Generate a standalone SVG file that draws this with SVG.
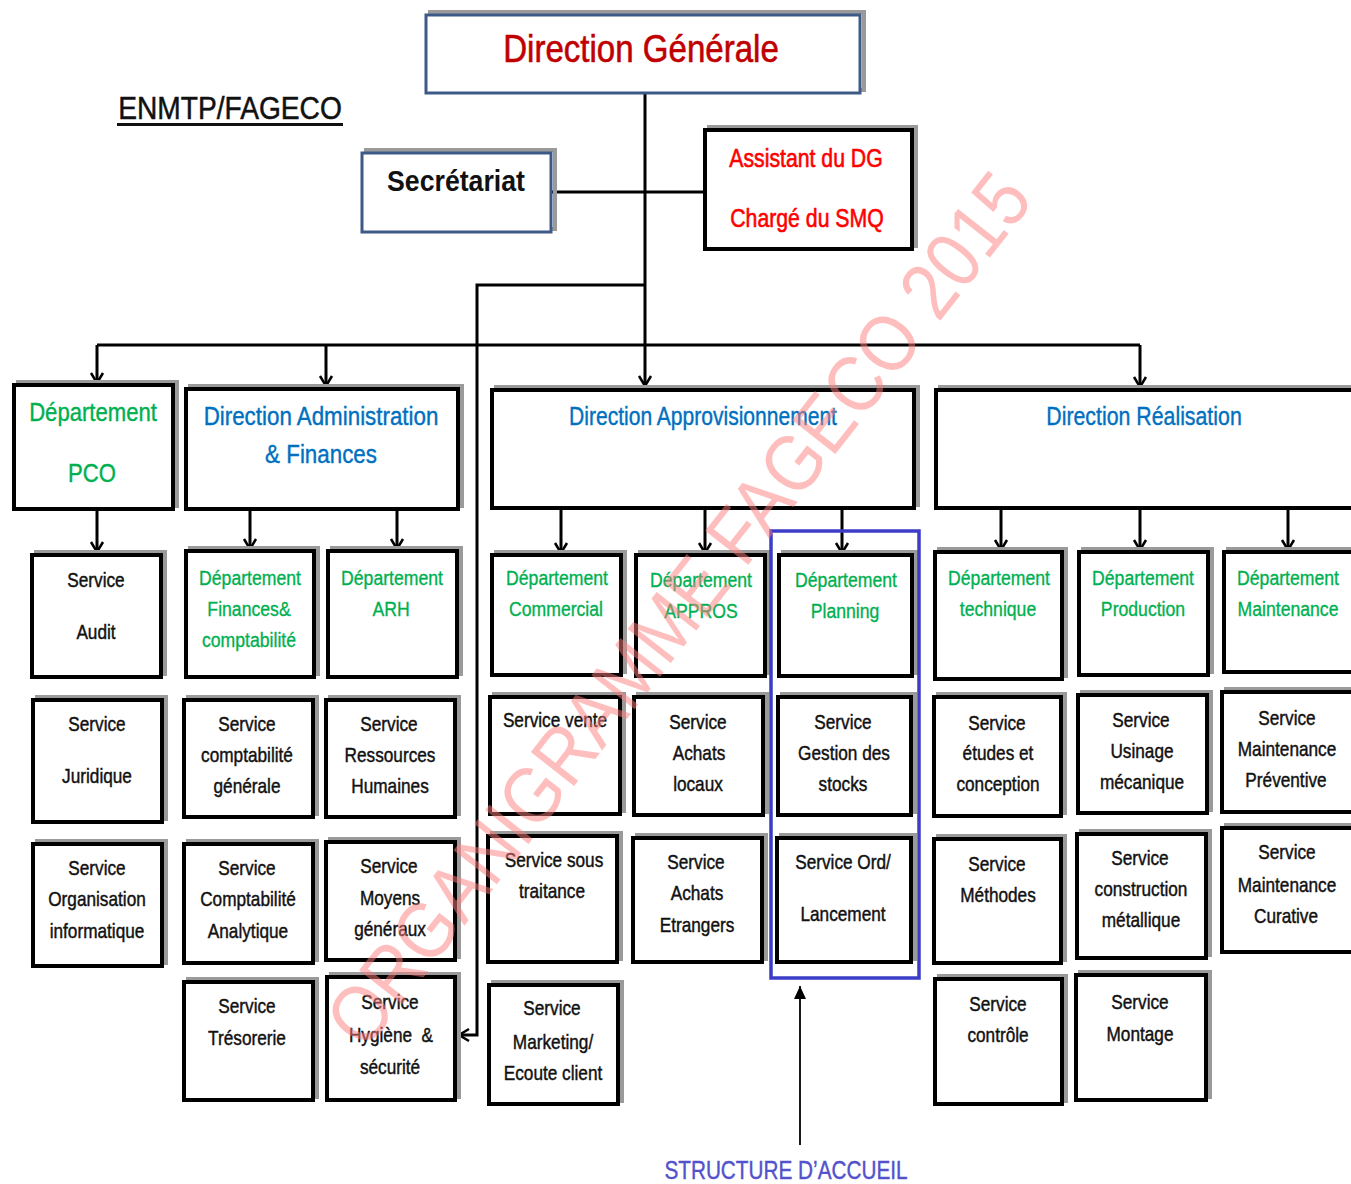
<svg xmlns="http://www.w3.org/2000/svg" width="1351" height="1184" viewBox="0 0 1351 1184">
<style>
text{font-family:"Liberation Sans",Arial,sans-serif;text-anchor:middle;white-space:pre}
.sh{fill:none;stroke:#9a9a9a;stroke-width:4}
.bx{fill:#fff;stroke:#000;stroke-width:4}
.bb{fill:#fff;stroke:#3d5a86;stroke-width:3}
.s{font-size:21px;fill:#111;stroke:#111;stroke-width:.45}
.d{font-size:21px;fill:#00b050;stroke:#00b050;stroke-width:.35}
.D{font-size:26px;fill:#00b050;stroke:#00b050;stroke-width:.4}
.b{font-size:26px;fill:#0070c0;stroke:#0070c0;stroke-width:.4}
.ln{fill:none;stroke:#000;stroke-width:3}
</style>
<defs>
<marker id="ah" viewBox="-12 -8 14 16" markerWidth="14" markerHeight="16" refX="0" refY="0" orient="auto" markerUnits="userSpaceOnUse"><path d="M-10,-6 L0,0 L-10,6" fill="none" stroke="#000" stroke-width="2.5"/></marker>
<marker id="tri" viewBox="-14 -7 15 14" markerWidth="15" markerHeight="14" refX="0" refY="0" orient="auto" markerUnits="userSpaceOnUse"><path d="M-13,-6 L0,0 L-13,6 Z" fill="#000"/></marker>
</defs>
<rect width="1351" height="1184" fill="#fff"/>

<g id="title">
<text transform="translate(230,119) scale(.88,1)" style="font-size:32px;fill:#111;stroke:#111;stroke-width:.5">ENMTP/FAGECO</text>
<rect x="117" y="123" width="226" height="3" fill="#111"/>
</g>

<g id="connectors">
<path class="ln" d="M645,93 V386" marker-end="url(#ah)"/>
<path class="ln" d="M551,192 H705"/>
<path class="ln" d="M97,345 H1140"/>
<path class="ln" d="M97,345 V383" marker-end="url(#ah)"/>
<path class="ln" d="M326,345 V386" marker-end="url(#ah)"/>
<path class="ln" d="M1140,345 V387" marker-end="url(#ah)"/>
<path class="ln" d="M645,285 H477 V1035 H459" marker-end="url(#ah)"/>
<path class="ln" d="M97,509 V552" marker-end="url(#ah)"/>
<path class="ln" d="M250,509 V549" marker-end="url(#ah)"/>
<path class="ln" d="M397,509 V549" marker-end="url(#ah)"/>
<path class="ln" d="M561,508 V553" marker-end="url(#ah)"/>
<path class="ln" d="M705,508 V553" marker-end="url(#ah)"/>
<path class="ln" d="M842,508 V553" marker-end="url(#ah)"/>
<path class="ln" d="M1001,508 V550" marker-end="url(#ah)"/>
<path class="ln" d="M1140,508 V550" marker-end="url(#ah)"/>
<path class="ln" d="M1288,508 V550" marker-end="url(#ah)"/>
<path d="M800,1145 V986" fill="none" stroke="#000" stroke-width="1.8" marker-end="url(#tri)"/>
</g>

<g id="dg"><rect class="sh" x="430" y="12" width="434" height="78"/><rect class="bb" x="426" y="15" width="434" height="78"/><text transform="translate(641,62) scale(.87,1)" style="font-size:38px;fill:#c00000;stroke:#c00000;stroke-width:.6">Direction Générale</text></g>
<g id="secretariat"><rect class="sh" x="366" y="150" width="189" height="79"/><rect class="bb" x="362" y="153" width="189" height="79"/><text transform="translate(456,191) scale(.89,1)" style="font-size:30px;font-weight:bold;fill:#111">Secrétariat</text></g>
<g id="assistant"><rect class="sh" x="709" y="127" width="207" height="119"/><rect class="bx" x="705" y="130" width="207" height="119"/><text transform="translate(806,167) scale(.85,1)" style="font-size:25px;fill:#ff0000;stroke:#ff0000;stroke-width:.6">Assistant du DG</text><text transform="translate(807,227) scale(.85,1)" style="font-size:25px;fill:#ff0000;stroke:#ff0000;stroke-width:.6">Chargé du SMQ</text></g>

<g id="pco"><rect class="sh" x="18" y="382" width="159" height="124"/><rect class="bx" x="14" y="385" width="159" height="124"/><text class="D" transform="translate(93,421) scale(.85,1)">Département</text><text class="D" transform="translate(92,482) scale(.85,1)">PCO</text></g>
<g id="daf"><rect class="sh" x="190" y="386" width="272" height="120"/><rect class="bx" x="186" y="389" width="272" height="120"/><text class="b" transform="translate(321,425) scale(.86,1)">Direction Administration</text><text class="b" transform="translate(321,463) scale(.86,1)">&amp; Finances</text></g>
<g id="dappro"><rect class="sh" x="496" y="387" width="422" height="118"/><rect class="bx" x="492" y="390" width="422" height="118"/><text class="b" transform="translate(703,425) scale(.81,1)">Direction Approvisionnement</text></g>
<g id="dreal"><rect class="sh" x="940" y="387" width="430" height="118"/><rect class="bx" x="936" y="390" width="430" height="118"/><text class="b" transform="translate(1144,425) scale(.82,1)">Direction Réalisation</text></g>

<g id="audit"><rect class="sh" x="36" y="552" width="129" height="122"/><rect class="bx" x="32" y="555" width="129" height="122"/><text class="s" transform="translate(96,587) scale(.82,1)">Service</text><text class="s" transform="translate(96,639) scale(.82,1)">Audit</text></g>
<g id="depfin"><rect class="sh" x="190" y="548" width="128" height="126"/><rect class="bx" x="186" y="551" width="128" height="126"/><text class="d" transform="translate(250,585) scale(.84,1)">Département</text><text class="d" transform="translate(249,616) scale(.84,1)">Finances&amp;</text><text class="d" transform="translate(249,647) scale(.84,1)">comptabilité</text></g>
<g id="deparh"><rect class="sh" x="332" y="548" width="129" height="126"/><rect class="bx" x="328" y="551" width="129" height="126"/><text class="d" transform="translate(392,585) scale(.84,1)">Département</text><text class="d" transform="translate(391,616) scale(.84,1)">ARH</text></g>
<g id="depcom"><rect class="sh" x="496" y="552" width="129" height="120"/><rect class="bx" x="492" y="555" width="129" height="120"/><text class="d" transform="translate(557,585) scale(.84,1)">Département</text><text class="d" transform="translate(556,616) scale(.84,1)">Commercial</text></g>
<g id="depappros"><rect class="sh" x="640" y="552" width="129" height="121"/><rect class="bx" x="636" y="555" width="129" height="121"/><text class="d" transform="translate(701,587) scale(.84,1)">Département</text><text class="d" transform="translate(701,618) scale(.84,1)">APPROS</text></g>
<g id="depplan"><rect class="sh" x="783" y="552" width="133" height="121"/><rect class="bx" x="779" y="555" width="133" height="121"/><text class="d" transform="translate(846,587) scale(.84,1)">Département</text><text class="d" transform="translate(845,618) scale(.84,1)">Planning</text></g>
<g id="deptech"><rect class="sh" x="939" y="549" width="127" height="127"/><rect class="bx" x="935" y="552" width="127" height="127"/><text class="d" transform="translate(999,585) scale(.84,1)">Département</text><text class="d" transform="translate(998,616) scale(.84,1)">technique</text></g>
<g id="depprod"><rect class="sh" x="1083" y="549" width="129" height="123"/><rect class="bx" x="1079" y="552" width="129" height="123"/><text class="d" transform="translate(1143,585) scale(.84,1)">Département</text><text class="d" transform="translate(1143,616) scale(.84,1)">Production</text></g>
<g id="depmaint"><rect class="sh" x="1228" y="549" width="140" height="120"/><rect class="bx" x="1224" y="552" width="140" height="120"/><text class="d" transform="translate(1288,585) scale(.84,1)">Département</text><text class="d" transform="translate(1288,616) scale(.84,1)">Maintenance</text></g>

<g id="juridique"><rect class="sh" x="37" y="697" width="129" height="122"/><rect class="bx" x="33" y="700" width="129" height="122"/><text class="s" transform="translate(97,731) scale(.82,1)">Service</text><text class="s" transform="translate(97,783) scale(.82,1)">Juridique</text></g>
<g id="cptgen"><rect class="sh" x="188" y="697" width="129" height="117"/><rect class="bx" x="184" y="700" width="129" height="117"/><text class="s" transform="translate(247,731) scale(.82,1)">Service</text><text class="s" transform="translate(247,762) scale(.82,1)">comptabilité</text><text class="s" transform="translate(247,793) scale(.82,1)">générale</text></g>
<g id="rh"><rect class="sh" x="330" y="697" width="129" height="117"/><rect class="bx" x="326" y="700" width="129" height="117"/><text class="s" transform="translate(389,731) scale(.82,1)">Service</text><text class="s" transform="translate(390,762) scale(.82,1)">Ressources</text><text class="s" transform="translate(390,793) scale(.82,1)">Humaines</text></g>
<g id="vente"><rect class="sh" x="494" y="694" width="130" height="117"/><rect class="bx" x="490" y="697" width="130" height="117"/><text class="s" transform="translate(555,727) scale(.82,1)">Service vente</text></g>
<g id="achloc"><rect class="sh" x="638" y="694" width="129" height="118"/><rect class="bx" x="634" y="697" width="129" height="118"/><text class="s" transform="translate(698,729) scale(.82,1)">Service</text><text class="s" transform="translate(699,760) scale(.82,1)">Achats</text><text class="s" transform="translate(698,791) scale(.82,1)">locaux</text></g>
<g id="stocks"><rect class="sh" x="782" y="694" width="133" height="118"/><rect class="bx" x="778" y="697" width="133" height="118"/><text class="s" transform="translate(843,729) scale(.82,1)">Service</text><text class="s" transform="translate(844,760) scale(.82,1)">Gestion des</text><text class="s" transform="translate(843,791) scale(.82,1)">stocks</text></g>
<g id="etudes"><rect class="sh" x="938" y="694" width="127" height="119"/><rect class="bx" x="934" y="697" width="127" height="119"/><text class="s" transform="translate(997,730) scale(.82,1)">Service</text><text class="s" transform="translate(998,760) scale(.82,1)">études et</text><text class="s" transform="translate(998,791) scale(.82,1)">conception</text></g>
<g id="usinage"><rect class="sh" x="1082" y="692" width="129" height="118"/><rect class="bx" x="1078" y="695" width="129" height="118"/><text class="s" transform="translate(1141,727) scale(.82,1)">Service</text><text class="s" transform="translate(1142,758) scale(.82,1)">Usinage</text><text class="s" transform="translate(1142,789) scale(.82,1)">mécanique</text></g>
<g id="maintprev"><rect class="sh" x="1226" y="689" width="140" height="120"/><rect class="bx" x="1222" y="692" width="140" height="120"/><text class="s" transform="translate(1287,725) scale(.82,1)">Service</text><text class="s" transform="translate(1287,756) scale(.82,1)">Maintenance</text><text class="s" transform="translate(1286,787) scale(.82,1)">Préventive</text></g>

<g id="orginfo"><rect class="sh" x="37" y="841" width="129" height="122"/><rect class="bx" x="33" y="844" width="129" height="122"/><text class="s" transform="translate(97,875) scale(.82,1)">Service</text><text class="s" transform="translate(97,906) scale(.82,1)">Organisation</text><text class="s" transform="translate(97,938) scale(.82,1)">informatique</text></g>
<g id="cptana"><rect class="sh" x="188" y="841" width="129" height="119"/><rect class="bx" x="184" y="844" width="129" height="119"/><text class="s" transform="translate(247,875) scale(.82,1)">Service</text><text class="s" transform="translate(248,906) scale(.82,1)">Comptabilité</text><text class="s" transform="translate(248,938) scale(.82,1)">Analytique</text></g>
<g id="moyens"><rect class="sh" x="330" y="839" width="129" height="118"/><rect class="bx" x="326" y="842" width="129" height="118"/><text class="s" transform="translate(389,873) scale(.82,1)">Service</text><text class="s" transform="translate(390,905) scale(.82,1)">Moyens</text><text class="s" transform="translate(390,936) scale(.82,1)">généraux</text></g>
<g id="soustrait"><rect class="sh" x="492" y="833" width="129" height="126"/><rect class="bx" x="488" y="836" width="129" height="126"/><text class="s" transform="translate(554,867) scale(.82,1)">Service sous</text><text class="s" transform="translate(552,898) scale(.82,1)">traitance</text></g>
<g id="achetr"><rect class="sh" x="637" y="835" width="129" height="124"/><rect class="bx" x="633" y="838" width="129" height="124"/><text class="s" transform="translate(696,869) scale(.82,1)">Service</text><text class="s" transform="translate(697,900) scale(.82,1)">Achats</text><text class="s" transform="translate(697,932) scale(.82,1)">Etrangers</text></g>
<g id="ordlanc"><rect class="sh" x="781" y="835" width="134" height="124"/><rect class="bx" x="777" y="838" width="134" height="124"/><text class="s" transform="translate(843,869) scale(.82,1)">Service Ord/</text><text class="s" transform="translate(843,921) scale(.82,1)">Lancement</text></g>
<g id="methodes"><rect class="sh" x="938" y="836" width="127" height="124"/><rect class="bx" x="934" y="839" width="127" height="124"/><text class="s" transform="translate(997,871) scale(.82,1)">Service</text><text class="s" transform="translate(998,902) scale(.82,1)">Méthodes</text></g>
<g id="construct"><rect class="sh" x="1081" y="831" width="129" height="124"/><rect class="bx" x="1077" y="834" width="129" height="124"/><text class="s" transform="translate(1140,865) scale(.82,1)">Service</text><text class="s" transform="translate(1141,896) scale(.82,1)">construction</text><text class="s" transform="translate(1141,927) scale(.82,1)">métallique</text></g>
<g id="maintcur"><rect class="sh" x="1226" y="825" width="140" height="124"/><rect class="bx" x="1222" y="828" width="140" height="124"/><text class="s" transform="translate(1287,859) scale(.82,1)">Service</text><text class="s" transform="translate(1287,892) scale(.82,1)">Maintenance</text><text class="s" transform="translate(1286,923) scale(.82,1)">Curative</text></g>

<g id="tresorerie"><rect class="sh" x="188" y="979" width="129" height="118"/><rect class="bx" x="184" y="982" width="129" height="118"/><text class="s" transform="translate(247,1013) scale(.82,1)">Service</text><text class="s" transform="translate(247,1045) scale(.82,1)">Trésorerie</text></g>
<g id="hygiene"><rect class="sh" x="331" y="974" width="128" height="123"/><rect class="bx" x="327" y="977" width="128" height="123"/><text class="s" transform="translate(390,1009) scale(.82,1)">Service</text><text class="s" transform="translate(391,1042) scale(.82,1)">Hygiène  &amp;</text><text class="s" transform="translate(390,1074) scale(.82,1)">sécurité</text></g>
<g id="marketing"><rect class="sh" x="493" y="982" width="129" height="119"/><rect class="bx" x="489" y="985" width="129" height="119"/><text class="s" transform="translate(552,1015) scale(.82,1)">Service</text><text class="s" transform="translate(553,1049) scale(.82,1)">Marketing/</text><text class="s" transform="translate(553,1080) scale(.82,1)">Ecoute client</text></g>
<g id="controle"><rect class="sh" x="939" y="976" width="127" height="125"/><rect class="bx" x="935" y="979" width="127" height="125"/><text class="s" transform="translate(998,1011) scale(.82,1)">Service</text><text class="s" transform="translate(998,1042) scale(.82,1)">contrôle</text></g>
<g id="montage"><rect class="sh" x="1080" y="972" width="130" height="125"/><rect class="bx" x="1076" y="975" width="130" height="125"/><text class="s" transform="translate(1140,1009) scale(.82,1)">Service</text><text class="s" transform="translate(1140,1041) scale(.82,1)">Montage</text></g>

<g id="accueil">
<rect x="771" y="531" width="148" height="447" fill="none" stroke="#3c3cc8" stroke-width="3.5"/>
<text transform="translate(786,1179) scale(.83,1)" style="font-size:25px;fill:#5252cc;stroke:#5252cc;stroke-width:.4">STRUCTURE D’ACCUEIL</text>
</g>

<g id="watermark" opacity="0.5">
<text transform="translate(700,626) rotate(-51.8) scale(.88,1)" style="font-size:80px;fill:#ff7f7f">ORGANIGRAMME FAGECO 2015</text>
</g>
</svg>
